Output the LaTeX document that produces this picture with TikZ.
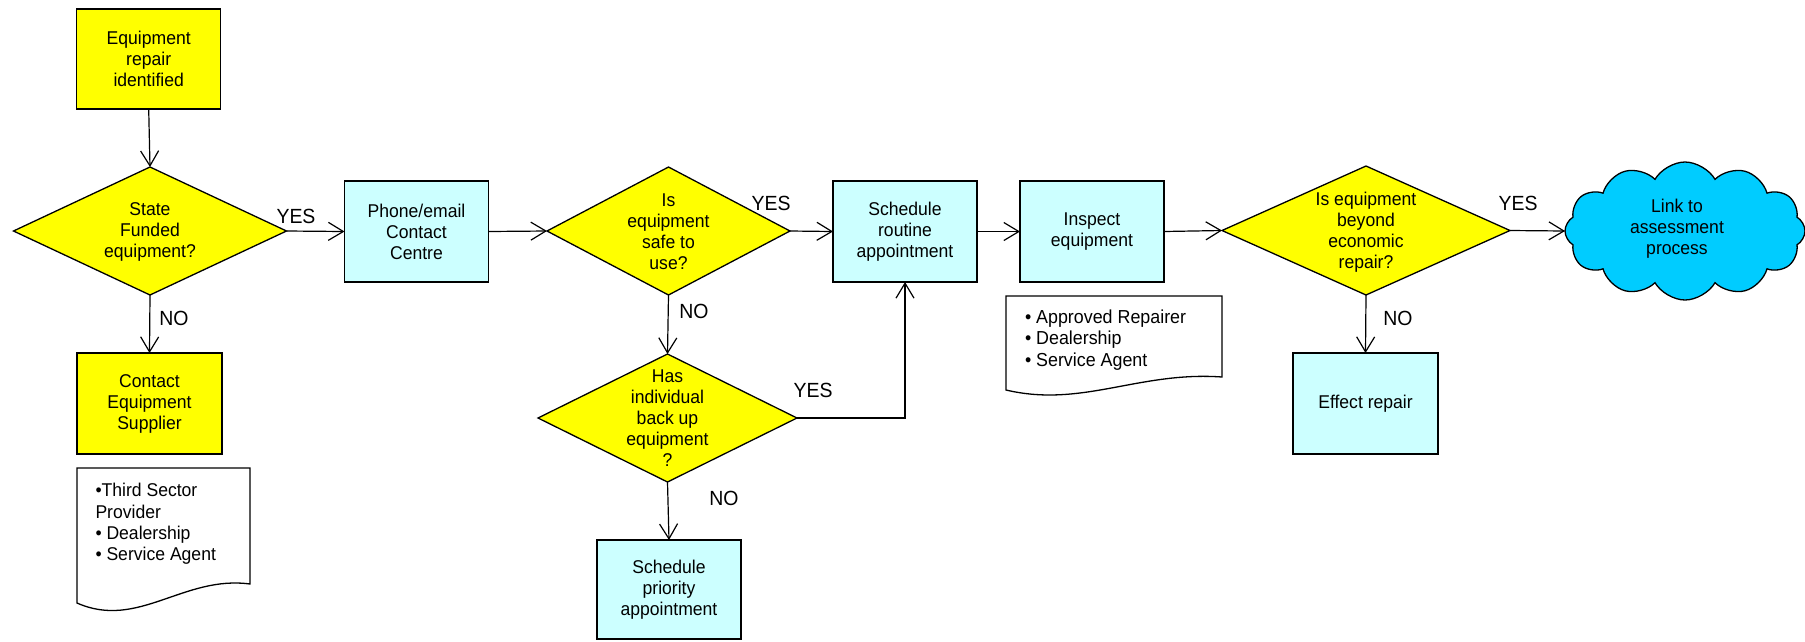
\documentclass[tikz,border=0pt]{standalone}
\usepackage{fontspec}
\setmainfont{Liberation Sans}
\newfontfamily\fb[FakeStretch=0.95]{Liberation Sans}
\usetikzlibrary{shapes.geometric,shapes.symbols,arrows.meta}
\definecolor{yel}{HTML}{FFFF00}
\definecolor{lcyan}{HTML}{CCFFFF}
\definecolor{cloudc}{HTML}{00CCFF}
\begin{document}
\begin{tikzpicture}[x=1pt,y=-1pt,
  every node/.style={outer sep=0pt},
  shp/.style={draw=black, line width=1.3pt},
  ybox/.style={shp, rectangle, fill=yel, inner sep=0pt},
  cbox/.style={shp, rectangle, fill=lcyan, inner sep=0pt},
  dia/.style={shp, diamond, fill=yel, inner sep=0pt},
  tb/.style={align=center, inner sep=0pt, font=\fb\fontsize{18.5}{21}\selectfont},
  lb/.style={inner sep=0pt, font=\fb\fontsize{20.5}{24}\selectfont},
  doct/.style={anchor=north west, align=left, inner sep=0pt},
  conn/.style={line width=1.2pt, -{Straight Barb[length=15pt,width=18pt,line width=1.2pt]}},
]
\useasboundingbox (0,0) rectangle (1805,641);

% boxes
\node[ybox, tb, minimum width=144pt, minimum height=100pt] (e1) at (148.7,59) {Equipment\\repair\\identified};
\node[cbox, tb, minimum width=144pt, minimum height=101pt] (phone) at (416.5,231.5) {Phone/email\\Contact\\Centre};
\node[ybox, tb, minimum width=145pt, minimum height=101pt] (cs) at (149.5,403.5) {Contact\\Equipment\\Supplier};
\node[cbox, tb, minimum width=144pt, minimum height=101pt] (rout) at (905,231.5) {Schedule\\routine\\appointment};
\node[cbox, tb, minimum width=144pt, minimum height=99pt] (prio) at (669,589.5) {Schedule\\priority\\appointment};
\node[cbox, tb, minimum width=144pt, minimum height=101pt] (insp) at (1092,231.5) {Inspect\\equipment};
\node[cbox, tb, minimum width=145pt, minimum height=101pt] (eff) at (1365.5,403.5) {Effect repair};

% diamonds
\node[dia, minimum width=273pt, minimum height=128pt] (d1) at (150,231) {};
\node[tb] (d1t) at (150,232) {State\\Funded\\equipment?};
\node[dia, minimum width=243pt, minimum height=128pt] (d2) at (668.5,231) {};
\node[tb] (d2t) at (668.5,232) {Is\\equipment\\safe to\\use?};
\node[dia, minimum width=259pt, minimum height=128pt] (d3) at (667.5,418) {};
\node[tb] (d3t) at (667.5,418) {Has\\individual\\back up\\equipment\\?};
\node[dia, minimum width=288pt, minimum height=129pt] (d4) at (1366,230.5) {};
\node[tb] (d4t) at (1366,232) {Is equipment\\beyond\\economic\\repair?};

% cloud
\node[shp, cloud, cloud puffs=12, cloud puff arc=120, aspect=1.9, minimum width=240pt, minimum height=138pt, fill=cloudc, inner sep=0pt] (cl) at (1685,231) {};
\node[tb] (clt) at (1677,229) {Link to\\assessment\\process};

% documents
\draw[shp, fill=white] (77,468) -- (250,468) -- (250,584) .. controls (183.5,575) and (138,630) .. (77,603) -- cycle;
\node[doct, font=\fb\fontsize{18.5}{21.2}\selectfont] (doc1t) at (95.5,483.5) {•Third Sector\\Provider\\• Dealership\\• Service Agent};
\draw[shp, fill=white] (1006,296) -- (1222,296) -- (1222,377) .. controls (1139,371) and (1082,408) .. (1006,390) -- cycle;
\node[doct, font=\fb\fontsize{18.8}{21.7}\selectfont] (doc2t) at (1025,309.5) {• Approved Repairer\\• Dealership\\• Service Agent};

% connectors
\draw[conn] (e1.south) -- (d1.north);
\draw[conn] (d1.east) -- (phone.west);
\draw[conn] (d1.south) -- (cs.north);
\draw[conn] (phone.east) -- (d2.west);
\draw[conn] (d2.east) -- (rout.west);
\draw[conn] (d2.south) -- (d3.north);
\draw[conn] (d3.east) -| (rout.south);
\draw[conn] (d3.south) -- (prio.north);
\draw[conn] (rout.east) -- (insp.west);
\draw[conn] (insp.east) -- (d4.west);
\draw[conn] (d4.east) -- (cl.west);
\draw[conn] (d4.south) -- (eff.north);

% labels
\node[lb] (y1) at (296,216) {YES};
\node[lb] (n1) at (174,318) {NO};
\node[lb] (y2) at (771,203) {YES};
\node[lb] (n2) at (694,311) {NO};
\node[lb] (y3) at (813,390) {YES};
\node[lb] (n3) at (724,498) {NO};
\node[lb] (y4) at (1518,203) {YES};
\node[lb] (n4) at (1398,318) {NO};
\end{tikzpicture}
\end{document}
